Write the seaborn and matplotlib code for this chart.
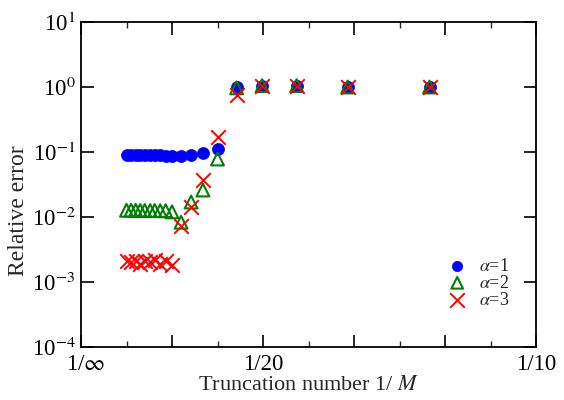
import numpy as np
import pandas as pd
import matplotlib
matplotlib.use("Agg")
import matplotlib.pyplot as plt
import matplotlib.transforms as mtransforms
import seaborn as sns
from matplotlib.ticker import FixedLocator, NullLocator

# x positions (axis units: 1/inf = 0, 1/20 = 2, 1/10 = 5)
x_pos = [0.50, 0.55, 0.60, 0.65, 0.70, 0.76, 0.81, 0.87, 0.93, 1.00,
         1.10, 1.21, 1.34, 1.50, 1.71, 1.99, 2.37, 2.93, 3.83]

err_a1 = [0.090, 0.090, 0.090, 0.090, 0.090, 0.089, 0.089, 0.089, 0.088, 0.088,
          0.087, 0.090, 0.095, 0.111, 1.00, 1.03, 1.03, 1.00, 1.00]
err_a2 = [0.0127, 0.0127, 0.0127, 0.0126, 0.0126, 0.0126, 0.0126, 0.0125, 0.0125, 0.0120,
          0.0083, 0.0170, 0.026, 0.078, 0.97, 1.05, 1.05, 1.00, 1.00]
err_a3 = [0.0021, 0.0020, 0.0021, 0.0019, 0.0021, 0.0020, 0.0022, 0.0019, 0.0021, 0.0018,
          0.0072, 0.0145, 0.037, 0.17, 0.75, 1.05, 1.03, 1.00, 1.00]

labels = [r"$\alpha$=1", r"$\alpha$=2", r"$\alpha$=3"]
x_ticks = [0, 1, 2, 3, 4, 5]
x_ticklabels = [r"1/$\infty$", "", "1/20", "", "", "1/10"]
y_ticks = [1e-4, 1e-3, 1e-2, 1e-1, 1e0, 1e1]
y_ticklabels = [r"10$^{-4}$", r"10$^{-3}$", r"10$^{-2}$", r"10$^{-1}$", r"10$^{0}$", r"10$^{1}$"]

sns.set_theme(style="ticks")
plt.rcParams["font.family"] = ["Liberation Serif", "DejaVu Serif"]
plt.rcParams["mathtext.fontset"] = "stix"

fig = plt.figure(figsize=(5.64, 4.0), dpi=100)
ax = fig.add_axes([81 / 564, 1 - 347 / 400, (536 - 81) / 564, (347 - 22) / 400])

df1 = pd.DataFrame({"x": x_pos, "y": err_a1})
df2 = pd.DataFrame({"x": x_pos, "y": err_a2})
df3 = pd.DataFrame({"x": x_pos, "y": err_a3})

sns.scatterplot(data=df1, x="x", y="y", ax=ax, marker="o", s=75, color="#0000ff",
                edgecolor="#0000ff", linewidth=0.5, label=labels[0], zorder=3)
sns.scatterplot(data=df2, x="x", y="y", ax=ax, marker="^", s=85, color="#008000",
                linewidth=1.5, label=labels[1], zorder=4)
sns.scatterplot(data=df3, x="x", y="y", ax=ax, marker="x", s=110, color="#ff0000",
                linewidth=1.4, label=labels[2], zorder=5)

coll = ax.collections[1]
coll.set_facecolor("none")
coll.set_edgecolor("#008000")

ax.set_yscale("log")
ax.set_ylim(1e-4, 1e1)
ax.set_xlim(0, 5)
ax.yaxis.set_major_locator(FixedLocator(y_ticks))
ax.set_yticklabels(y_ticklabels)
ax.yaxis.set_minor_locator(NullLocator())
ax.xaxis.set_major_locator(FixedLocator(x_ticks))
ax.set_xticklabels(x_ticklabels)
ax.xaxis.set_minor_locator(FixedLocator([0.5, 1.5, 2.5, 3.5, 4.5]))

ax.tick_params(axis="both", which="major", direction="in", length=9, width=1.2,
               labelsize=16.5, colors="black", top=True, right=True)
ax.tick_params(axis="x", which="major", pad=5)
ax.tick_params(axis="y", which="major", pad=4)
ax.tick_params(axis="x", which="minor", direction="in", length=4, width=1.0,
               top=True)
for sp in ax.spines.values():
    sp.set_linewidth(1.3)
    sp.set_color("black")

# nudge the "1/inf" label slightly right, as in the reference
first = ax.get_xticklabels()[0]
first.set_transform(first.get_transform() + mtransforms.ScaledTranslation(5 / 100, 0, fig.dpi_scale_trans))

ax.set_xlabel(r"Truncation number 1/ $M$", fontsize=16, labelpad=1)
ax.set_ylabel("Relative error", fontsize=17)
ax.yaxis.set_label_coords(-0.115, 0.42)

# legend
h, l = ax.get_legend_handles_labels()
leg = ax.legend(h, l, loc="lower right", bbox_to_anchor=(0.965, 0.085), frameon=False,
                fontsize=13, handletextpad=0.6, labelspacing=0.0, handlelength=1.2,
                borderaxespad=0.2)
leg.legend_handles[0].set_sizes([55])
leg.legend_handles[1].set_facecolor("none")
leg.legend_handles[1].set_edgecolor("#008000")
leg.legend_handles[1].set_sizes([70])

fig.savefig("out.png", dpi=100)
